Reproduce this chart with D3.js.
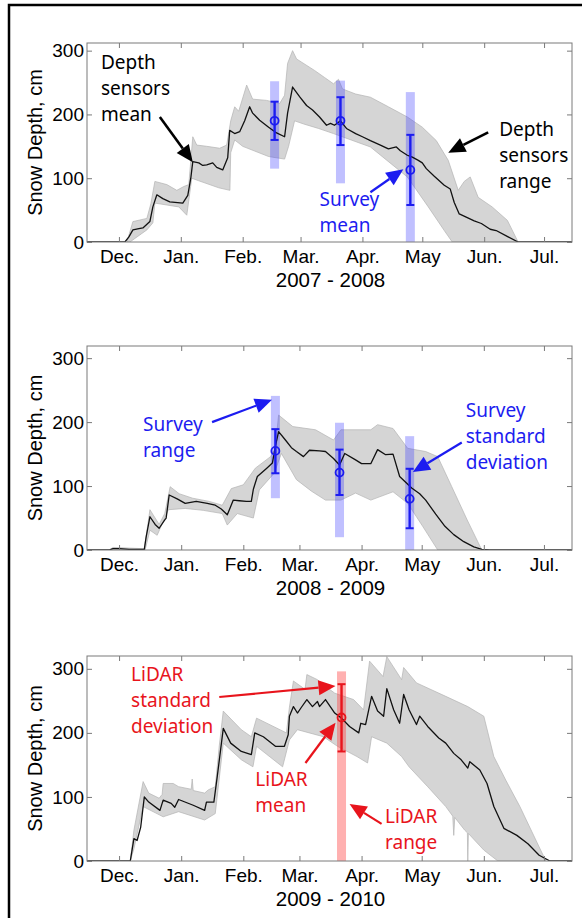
<!DOCTYPE html>
<html>
<head>
<meta charset="utf-8">
<script src="https://cdn.jsdelivr.net/npm/d3@7"></script>
<style>
  body { margin: 0; background: #fff; }
  svg { display: block; }
</style>
</head>
<body>
<svg id="fig" width="582" height="918"></svg>
<script>
// all series are [days since Dec. 1, snow depth in cm]

// ---- 2007 - 2008
const mean0708 = [[-16,0],[3,0],[5,8],[7,19],[10,21],[12,22],[15.5,32],[17,55],[19,74],[22,68],[25.5,63],[32,61],[34.5,73],[36,100],[37,126],[40,124],[42,120],[44,121],[47,124],[49,117],[52,113],[54.5,132],[55.5,175],[58,170],[60.5,173],[63,190],[65.5,212],[67,202],[70.5,191],[75,180],[79,171],[83,165],[84.5,202],[87,243],[90.5,228],[94,214],[97,207],[100.5,196],[104,183],[106,186],[108,183],[111,190],[114,178],[118.6,170],[122,165],[126,159],[131,152],[135,146],[139,149],[141,143],[144.5,136],[147,133],[150,128],[152,124],[154,115],[158,103],[163,89],[166,83],[168,62],[170.5,44],[174,39],[178,33],[181.6,29],[186,20],[189,18],[195,8],[200,0],[227,0]];
const upper0708 = [[4,0],[7,32],[14,37],[16,60],[18,95],[24,90],[29,81],[32.5,87],[35,90],[37,165],[39,152],[44,150],[50.5,147],[54,152],[56,190],[58,212],[60,205],[64,246],[67,224],[74,222],[80.5,217],[83,230],[84.5,280],[87,300],[89,287],[98,269],[103,258],[107.5,248],[110,255],[112,240],[118.6,232],[126,227],[135,212],[144.5,196],[152,180],[159,159],[165,128],[170,81],[173,95],[176,102],[180,70],[187,55],[194.6,34],[200,0]];
const lower0708 = [[5.5,0],[14,19],[17,30],[18,61],[30,55],[34,42],[36.5,100],[40,96],[50,85],[55.6,81],[56,140],[58,160],[62,150],[75,134],[83,130],[85,150],[88,190],[92.6,185],[100,178],[107.5,170],[126,149],[144.5,102],[155,55],[163,18],[167,0]];
const surveyDay0708 = [78, 111, 146];
const surveyMean0708 = [190, 190, 113];
const surveySd0708 = [[160,220],[152,227],[58,168]];
const surveyRange0708 = [[115,252],[92,253],[0,235]];

// ---- 2008 - 2009
const mean0809 = [[-16,0],[-5,0],[-3,2],[0,2],[5,1],[12.6,1],[13.5,20],[15.4,52],[18,40],[20,34],[22.8,47],[23.5,50],[25,86],[29,80],[33,73],[38.5,76],[44,73],[48,70],[51,64],[54,55],[57,78],[60,77],[63.5,76],[66,76],[67,95],[69,115],[73.7,128],[76.5,136],[78,162],[79.6,185],[83,172],[86,160],[88.5,154],[92,146],[95,156],[100,155],[103,154],[107,143],[110,133],[112.6,151],[118,141],[121,135],[125.6,135],[129,157],[133,149],[136.7,150],[140,115],[146,97],[150,88],[153,78],[158,56],[162.6,37],[167,24],[172,13],[177,5],[181,1],[185,0],[227,0]];
const upper0809 = [[-5,0],[-3,4],[5,3],[12.6,2],[15.4,63],[20,40],[22.8,57],[25.5,99],[30,88],[36.7,81],[45,76],[51.5,70],[56,96],[62,102],[68,128],[75.6,146],[78,160],[79.6,211],[86.7,193],[98,188],[107,172],[110.7,188],[125.6,188],[129,196],[136.7,190],[144,159],[153,154],[159,146],[166,99],[173.7,47],[181,0]];
const lower0809 = [[-5,0],[13,0],[15.4,31],[19,23],[24.6,63],[33,65],[42,62],[51.5,57],[54,39],[59,57],[67,50],[70,94],[77.4,120],[81,151],[88.5,110],[96,92],[103,78],[110.7,78],[118,89],[125.6,78],[136.7,91],[144,73],[151.5,37],[159,0]];
const surveyDay0809 = [78, 110, 145];
const surveyMean0809 = [155, 121, 80];
const surveySd0809 = [[120,189],[86,157],[34,127]];
const surveyRange0809 = [[81,241],[20,199],[0,178]];

// ---- 2009 - 2010
const mean0910 = [[-16,0],[5.6,0],[7.4,35],[9,32],[10.8,53],[12.6,100],[14.8,92],[20.4,79],[22,95],[26,90],[27.8,84],[29.7,96],[37,87],[42.7,79],[43.6,92],[47.3,92],[49,132],[52,207],[55.7,184],[61,171],[66,166],[67.7,200],[72,194],[78,179],[82.5,179],[84.4,197],[85,226],[87,241],[89,231],[91,240],[93.7,252],[96.5,241],[99,249],[100,241],[103,252],[107.6,231],[111,223],[115,210],[119.6,200],[120.6,215],[123,213],[126,257],[129,234],[132,226],[133.6,269],[137,236],[140,215],[142,260],[144.7,236],[148.4,213],[150,226],[154,210],[159.5,192],[163,184],[167,168],[170.7,158],[174,145],[175,155],[180,142],[183.6,121],[187,85],[192,51],[198.5,40],[204,27],[209.6,9],[215,0],[227,0]];
const upper0910 = [[5.6,0],[7.4,48],[12,124],[14.8,106],[20,98],[21.5,104],[22,121],[27,121],[29.7,116],[36,112],[36.5,128],[37,110],[42.7,106],[44.5,111],[48,116],[50,180],[52,234],[61,205],[66,194],[68.6,223],[83.5,200],[85,240],[87,281],[92.8,268],[93.7,291],[99,283],[102,275],[107.6,262],[117,252],[122,236],[125,312],[131.7,288],[133.6,319],[141,283],[142,302],[148.4,278],[163,257],[174,241],[182,226],[187,163],[193,126],[200,85],[209.6,22],[213,0]];
const lower0910 = [[5.6,0],[7.4,19],[12,85],[22,69],[29.7,77],[42.7,64],[48,74],[52,184],[61,158],[66.8,147],[68.6,179],[81.6,147],[85,189],[89,205],[102,194],[109,179],[118.7,163],[124,153],[126,194],[133.6,184],[141,163],[144.7,147],[154,116],[163,85],[166.5,70],[167,40],[167.5,68],[172.5,48],[173.8,44],[174,0],[174.3,43],[182,17],[189,0]];
const lidarDay0910 = [111];
const lidarMean0910 = [224];
const lidarSd0910 = [[171,276]];
const lidarRange0910 = [[0,296]];

const monthLabels = ["Dec.", "Jan.", "Feb.", "Mar.", "Apr.", "May", "Jun.", "Jul."];
const depthTicks = [0, 100, 200, 300];

const BLUE = "#1c1cf0", RED = "#e8141c";
const AXIS_FONT = "'Liberation Sans', Arial, sans-serif";
const NOTE_FONT = "'Noto Sans', 'Open Sans', sans-serif";

const panels = [
  { top: 43, bottom: 242, yMax: 312, year: 2007, season: "2007 - 2008",
    mean: mean0708, upper: upper0708, lower: lower0708,
    obsDay: surveyDay0708, obsMean: surveyMean0708, obsSd: surveySd0708, obsRange: surveyRange0708,
    color: BLUE, rangeFill: "#3b3bff", rangeOpacity: 0.32,
    notes: [
      { lines: ["Depth", "sensors", "mean"], at: [-9, 282], color: "#000",
        arrow: [[20.5, 196], [37, 125]] },
      { lines: ["Depth", "sensors", "range"], at: [190.5, 177], color: "#000",
        arrow: [[185, 172], [165, 140]] },
      { lines: ["Survey", "mean"], at: [100.5, 67], color: BLUE,
        arrow: [[126, 78], [142.5, 114]] }
    ] },
  { top: 346, bottom: 550, yMax: 319, year: 2008, season: "2008 - 2009",
    mean: mean0809, upper: upper0809, lower: lower0809,
    obsDay: surveyDay0809, obsMean: surveyMean0809, obsSd: surveySd0809, obsRange: surveyRange0809,
    color: BLUE, rangeFill: "#3b3bff", rangeOpacity: 0.32,
    notes: [
      { lines: ["Survey", "range"], at: [12, 197], color: BLUE,
        arrow: [[46.4, 200], [76.3, 235]] },
      { lines: ["Survey", "standard", "deviation"], at: [173, 219], color: BLUE,
        arrow: [[171, 168], [146.6, 122]] }
    ] },
  { top: 656, bottom: 861, yMax: 320, year: 2009, season: "2009 - 2010",
    mean: mean0910, upper: upper0910, lower: lower0910,
    obsDay: lidarDay0910, obsMean: lidarMean0910, obsSd: lidarSd0910, obsRange: lidarRange0910,
    color: RED, rangeFill: "#ff3a3a", rangeOpacity: 0.4,
    notes: [
      { lines: ["LiDAR", "standard", "deviation"], at: [6, 292], color: RED,
        arrow: [[50, 256], [108, 273]] },
      { lines: ["LiDAR", "mean"], at: [68, 128], color: RED,
        arrow: [[93, 153], [108, 216]] },
      { lines: ["LiDAR", "range"], at: [132.7, 70], color: RED,
        arrow: [[131, 58], [115, 89]] }
    ] }
];

const svg = d3.select("#fig");
const left = 87, right = 572;

// outer frame of the figure
svg.append("rect")
  .attr("x", 9).attr("y", 5).attr("width", 600).attr("height", 940)
  .attr("fill", "none").attr("stroke", "#000").attr("stroke-width", 2.5);

function drawArrow(g, x1, y1, x2, y2, color, width, headLen, headW) {
  const a = Math.atan2(y2 - y1, x2 - x1);
  const bx = x2 - headLen * Math.cos(a), by = y2 - headLen * Math.sin(a);
  g.append("line")
    .attr("x1", x1).attr("y1", y1).attr("x2", bx).attr("y2", by)
    .attr("stroke", color).attr("stroke-width", width);
  const px = -Math.sin(a) * headW / 2, py = Math.cos(a) * headW / 2;
  g.append("path")
    .attr("d", `M${x2},${y2}L${bx + px},${by + py}L${bx - px},${by - py}Z`)
    .attr("fill", color);
}

panels.forEach(p => {
  const start = new Date(p.year, 11, 1);
  const toDate = d => new Date(start.getTime() + d * 864e5);
  const x = d3.scaleTime()
    .domain([new Date(p.year, 10, 15), new Date(p.year + 1, 6, 15)])
    .range([left, right]);
  const y = d3.scaleLinear().domain([0, p.yMax]).range([p.bottom, p.top]);
  const monthStarts = d3.range(8).map(i => new Date(p.year, 11 + i, 1));

  const g = svg.append("g");

  // clip so the band never leaks out of the box
  const clipId = "clip" + p.year;
  svg.append("clipPath").attr("id", clipId)
    .append("rect").attr("x", left).attr("y", p.top)
    .attr("width", right - left).attr("height", p.bottom - p.top);
  const plot = g.append("g").attr("clip-path", `url(#${clipId})`);

  // sensors range band
  const band = p.upper.concat(p.lower.slice().reverse());
  plot.append("path")
    .attr("d", d3.line().x(d => x(toDate(d[0]))).y(d => y(d[1]))(band) + "Z")
    .attr("fill", "#d5d5d5").attr("stroke", "#b3b3b3").attr("stroke-width", 0.7);

  // survey / lidar range bars
  plot.selectAll(".rng").data(p.obsRange).enter().append("rect")
    .attr("x", (d, i) => x(toDate(p.obsDay[i])) - 4.5)
    .attr("width", 9)
    .attr("y", d => y(d[1]))
    .attr("height", d => y(d[0]) - y(d[1]))
    .attr("fill", p.rangeFill).attr("opacity", p.rangeOpacity);

  // sensors mean
  plot.append("path")
    .attr("d", d3.line().x(d => x(toDate(d[0]))).y(d => y(d[1]))(p.mean))
    .attr("fill", "none").attr("stroke", "#111").attr("stroke-width", 1.3)
    .attr("stroke-linejoin", "round");

  // standard deviation bars
  p.obsSd.forEach((sd, i) => {
    const cx = x(toDate(p.obsDay[i]));
    g.append("line").attr("x1", cx).attr("x2", cx)
      .attr("y1", y(sd[0])).attr("y2", y(sd[1]))
      .attr("stroke", p.color).attr("stroke-width", 2.4);
    [sd[0], sd[1]].forEach(v => {
      g.append("line").attr("x1", cx - 4).attr("x2", cx + 4)
        .attr("y1", y(v)).attr("y2", y(v))
        .attr("stroke", p.color).attr("stroke-width", 2);
    });
    g.append("circle").attr("cx", cx).attr("cy", y(p.obsMean[i])).attr("r", 4)
      .attr("fill", "none").attr("stroke", p.color).attr("stroke-width", 1.8);
  });

  // box and ticks, matlab style
  g.append("rect")
    .attr("x", left).attr("y", p.top).attr("width", right - left).attr("height", p.bottom - p.top)
    .attr("fill", "none").attr("stroke", "#7a7a7a").attr("stroke-width", 1);

  const xb = g.append("g").attr("transform", `translate(0,${p.bottom})`)
    .call(d3.axisBottom(x).tickValues(monthStarts).tickSizeInner(-5).tickSizeOuter(0)
      .tickPadding(8).tickFormat((d, i) => monthLabels[i]));
  const xt = g.append("g").attr("transform", `translate(0,${p.top})`)
    .call(d3.axisTop(x).tickValues(monthStarts).tickSizeInner(-5).tickSizeOuter(0).tickFormat(""));
  const yl = g.append("g").attr("transform", `translate(${left},0)`)
    .call(d3.axisLeft(y).tickValues(depthTicks).tickSizeInner(-5).tickSizeOuter(0).tickPadding(3));
  const yr = g.append("g").attr("transform", `translate(${right},0)`)
    .call(d3.axisRight(y).tickValues(depthTicks).tickSizeInner(-5).tickSizeOuter(0).tickFormat(""));
  [xb, xt, yl, yr].forEach(a => {
    a.select(".domain").remove();
    a.selectAll(".tick line").attr("stroke", "#7a7a7a");
    a.selectAll("text").attr("fill", "#000")
      .style("font-family", AXIS_FONT).style("font-size", "19px");
  });

  g.append("text")
    .attr("x", (left + right) / 2 + 1).attr("y", p.bottom + 45)
    .attr("text-anchor", "middle")
    .style("font-family", AXIS_FONT).style("font-size", "20.5px")
    .text(p.season);

  g.append("text")
    .attr("transform", `translate(42,${(p.top + p.bottom) / 2}) rotate(-90)`)
    .attr("text-anchor", "middle")
    .style("font-family", AXIS_FONT).style("font-size", "20px")
    .text("Snow Depth, cm");

  // annotations
  p.notes.forEach(n => {
    const tx = x(toDate(n.at[0])), ty = y(n.at[1]);
    const t = g.append("text")
      .attr("fill", n.color)
      .style("font-family", NOTE_FONT).style("font-size", "19px");
    n.lines.forEach((s, i) => {
      t.append("tspan").attr("x", tx).attr("y", ty + i * 26).attr("dy", "0.35em").text(s);
    });
    const [a, b] = n.arrow;
    drawArrow(g, x(toDate(a[0])), y(a[1]), x(toDate(b[0])), y(b[1]),
      n.color, n.color === "#000" ? 2.6 : 2.2, 17, 15);
  });
});
</script>
</body>
</html>
